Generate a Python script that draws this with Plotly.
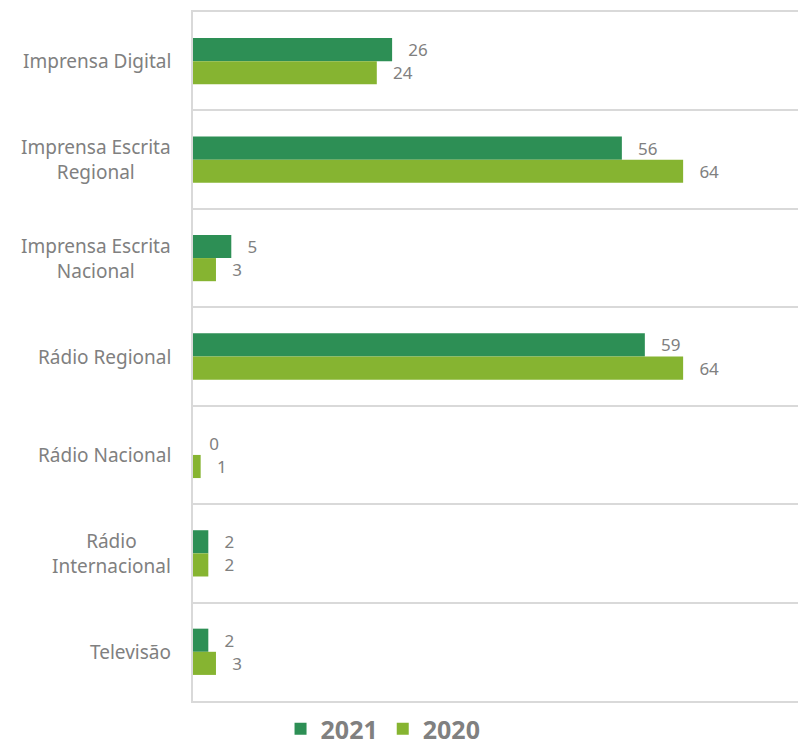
import plotly.graph_objects as go

categories = ["Imprensa Digital", "Imprensa Escrita<br>Regional", "Imprensa Escrita<br>Nacional",
              "Rádio Regional", "Rádio Nacional", "Rádio<br>Internacional", "Televisão"]
values_2021 = [26, 56, 5, 59, 0, 2, 2]
values_2020 = [24, 64, 3, 64, 1, 2, 3]

C2021 = "#2D8F55"
C2020 = "#86B431"
GRAY = "#808080"
LINE = "#D9D9D9"
FONT = "Noto Sans"

fig = go.Figure()
for name, vals, col in (("2021", values_2021, C2021), ("2020", values_2020, C2020)):
    fig.add_trace(go.Bar(y=categories, x=vals, orientation="h", name=name,
                         marker=dict(color=col, line=dict(width=0)), text=vals,
                         texttemplate="   %{x}", textposition="outside",
                         constraintext="none",
                         textfont=dict(color=GRAY, size=17, family=FONT), cliponaxis=False))

for c in categories:
    fig.add_annotation(x=0, xref="paper", y=c, yref="y", text=c, showarrow=False,
                       xanchor="right", xshift=-20, align="center",
                       font=dict(color=GRAY, size=19, family=FONT))

fig.update_layout(
    width=798, height=752,
    margin=dict(l=193, r=0, t=12, b=51, autoexpand=False),
    paper_bgcolor="white", plot_bgcolor="white",
    barmode="group", bargap=0.53, bargroupgap=0,
    font=dict(family=FONT, color=GRAY),
    legend=dict(orientation="h", xref="container", x=0.48, xanchor="center",
                yref="container", y=0.0, yanchor="bottom",
                font=dict(size=25, color=GRAY, family=FONT, weight="bold"),
                itemwidth=30, traceorder="normal"),
    xaxis=dict(range=[0, 79], showgrid=False, showticklabels=False, zeroline=False,
               showline=True, mirror=True, linecolor=LINE, linewidth=2, ticks=""),
    yaxis=dict(type="category", autorange="reversed", tickson="boundaries",
               showgrid=True, gridcolor=LINE, gridwidth=2,
               showticklabels=False, ticks="", showline=True, linecolor=LINE,
               linewidth=2, zeroline=False),
)

fig.write_html("out.html", config={"displayModeBar": False},
               post_script="document.body.style.margin='0';")
